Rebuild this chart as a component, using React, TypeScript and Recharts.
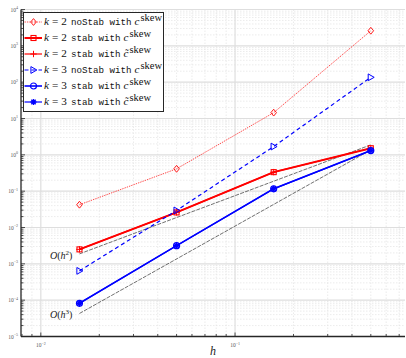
import React from 'react';
import { LineChart, Line, XAxis, YAxis, CartesianGrid, Legend } from 'recharts';

// ---- data ----
const hValues = [0.0158114, 0.05, 0.158114, 0.5];
const k2NoStab = [0.0423, 0.412, 14.5, 2600];
const k2Stab = [2.5e-3, 0.026, 0.334, 1.52];
const k2StabTilde = [2.5e-3, 0.026, 0.334, 1.52];
const k3NoStab = [6.4e-4, 0.0295, 1.69, 136];
const k3Stab = [8.2e-5, 3.16e-3, 0.116, 1.31];
const k3StabTilde = [8.2e-5, 3.16e-3, 0.116, 1.31];
const refHValues = [0.0158114, 0.5];
const refOrder2 = [1.88e-3, 1.88];
const refOrder3 = [4.3e-5, 1.37];
const refLabels = ['2', '3'];

const xDomain: [number, number] = [0.0079057, 0.75];
const yDomain: [number, number] = [1e-5, 1e4];
const xMajorTicks = [0.01, 0.1];
const yMajorTicks = [1e-5, 1e-4, 1e-3, 1e-2, 1e-1, 1, 1e1, 1e2, 1e3, 1e4];

const minorTicks = (dom: [number, number]) => {
  const out: number[] = [];
  const lo = Math.floor(Math.log10(dom[0]));
  const hi = Math.ceil(Math.log10(dom[1]));
  for (let e = lo; e <= hi; e++) {
    for (let m = 2; m <= 9; m++) {
      const v = m * Math.pow(10, e);
      if (v >= dom[0] && v <= dom[1]) out.push(v);
    }
  }
  return out;
};
const xMinorTicks = minorTicks(xDomain);
const yMinorTicks = minorTicks(yDomain);
const xAllTicks = [...xMajorTicks, ...xMinorTicks].sort((a, b) => a - b);
const yAllTicks = [...yMajorTicks, ...yMinorTicks].sort((a, b) => a - b);

const toPoints = (xs: number[], ys: number[]) => xs.map((h, i) => ({ h, v: ys[i] }));

const isMajor = (v: number) => Math.abs(Math.log10(v) - Math.round(Math.log10(v))) < 1e-6;
const expStr = (v: number) => {
  const e = Math.round(Math.log10(v));
  return e < 0 ? '\u2212' + Math.abs(e) : String(e);
};

const AX = '#262626';
const LBL = '#5a5a5a';
const RED = '#ff0000';
const BLUE = '#0000ff';
const SERIF = '"Liberation Serif", "DejaVu Serif", serif';
const MONO = '"Liberation Mono", "DejaVu Sans Mono", monospace';

// ---- ticks (inward, MATLAB-style) ----
const BottomTick = (p: any) => {
  const { x, y, payload } = p;
  const maj = isMajor(payload.value);
  return (
    <g>
      <line x1={x} x2={x} y1={y} y2={y - (maj ? 4 : 2.5)} stroke={AX} strokeWidth={0.8} />
      {maj && (
        <text x={x} y={y + 10.5} textAnchor="middle" fontSize={5.5} fill={LBL} fontFamily={SERIF}>
          10<tspan dy={-2.5} fontSize={4}>{expStr(payload.value)}</tspan>
        </text>
      )}
    </g>
  );
};
const TopTick = (p: any) => {
  const { x, y, payload } = p;
  const maj = isMajor(payload.value);
  return <line x1={x} x2={x} y1={y} y2={y + (maj ? 4 : 2.5)} stroke={AX} strokeWidth={0.8} />;
};
const LeftTick = (p: any) => {
  const { x, y, payload } = p;
  const maj = isMajor(payload.value);
  return (
    <g>
      <line x1={x} x2={x + (maj ? 4 : 2.5)} y1={y} y2={y} stroke={AX} strokeWidth={0.8} />
      {maj && (
        <text x={x - 3} y={y + 2} textAnchor="end" fontSize={5.5} fill={LBL} fontFamily={SERIF}>
          10<tspan dy={-2.5} fontSize={4}>{expStr(payload.value)}</tspan>
        </text>
      )}
    </g>
  );
};
const RightTick = (p: any) => {
  const { x, y, payload } = p;
  const maj = isMajor(payload.value);
  return <line x1={x} x2={x - (maj ? 4 : 2.5)} y1={y} y2={y} stroke={AX} strokeWidth={0.8} />;
};

// ---- markers ----
type MarkerKind = 'diamond' | 'square' | 'plus' | 'triangle' | 'circle' | 'asterisk';
const drawMarker = (kind: MarkerKind, cx: number, cy: number, color: string, key?: any) => {
  switch (kind) {
    case 'diamond':
      return <path key={key} d={`M${cx},${cy - 3.4}L${cx + 2.8},${cy}L${cx},${cy + 3.4}L${cx - 2.8},${cy}Z`} fill="none" stroke={color} strokeWidth={0.9} />;
    case 'square':
      return <rect key={key} x={cx - 2.5} y={cy - 2.5} width={5} height={5} fill="none" stroke={color} strokeWidth={1.1} />;
    case 'plus':
      return <path key={key} d={`M${cx - 3.2},${cy}H${cx + 3.2}M${cx},${cy - 3.2}V${cy + 3.2}`} stroke={color} strokeWidth={1} />;
    case 'triangle':
      return <path key={key} d={`M${cx - 2.6},${cy - 3.4}L${cx + 3.4},${cy}L${cx - 2.6},${cy + 3.4}Z`} fill="none" stroke={color} strokeWidth={1} />;
    case 'circle':
      return <circle key={key} cx={cx} cy={cy} r={3} fill="none" stroke={color} strokeWidth={1.2} />;
    case 'asterisk':
      return (
        <path
          key={key}
          d={`M${cx - 3},${cy}H${cx + 3}M${cx},${cy - 3}V${cy + 3}M${cx - 2.2},${cy - 2.2}L${cx + 2.2},${cy + 2.2}M${cx - 2.2},${cy + 2.2}L${cx + 2.2},${cy - 2.2}`}
          stroke={color}
          strokeWidth={1.4}
        />
      );
  }
  return null;
};

type Series = {
  id: string;
  values: number[];
  color: string;
  width: number;
  dash?: string;
  marker: MarkerKind;
  k: number;
  stab: boolean;
  tilde: boolean;
};

const series: Series[] = [
  { id: 's1', values: k2NoStab, color: RED, width: 0.7, dash: '1.4 1', marker: 'diamond', k: 2, stab: false, tilde: false },
  { id: 's2', values: k2Stab, color: RED, width: 2, marker: 'square', k: 2, stab: true, tilde: false },
  { id: 's3', values: k2StabTilde, color: RED, width: 1.2, marker: 'plus', k: 2, stab: true, tilde: true },
  { id: 's4', values: k3NoStab, color: BLUE, width: 1.2, dash: '4 3', marker: 'triangle', k: 3, stab: false, tilde: false },
  { id: 's5', values: k3Stab, color: BLUE, width: 1.6, marker: 'circle', k: 3, stab: true, tilde: false },
  { id: 's6', values: k3StabTilde, color: BLUE, width: 1.2, marker: 'asterisk', k: 3, stab: true, tilde: true },
];

const LegendBox = () => (
  <div
    style={{
      border: `1.4px solid ${AX}`,
      background: '#fff',
      padding: '1px 1px 1px 0px',
      fontFamily: SERIF,
      fontSize: 11.2,
      color: '#111',
      lineHeight: '16px',
      whiteSpace: 'nowrap',
    }}
  >
    {series.map((s) => (
      <div key={s.id} style={{ display: 'flex', alignItems: 'center', height: 16 }}>
        <svg width={19} height={16} style={{ display: 'block' }}>
          <line x1={0.5} x2={18} y1={8} y2={8} stroke={s.color} strokeWidth={s.width} strokeDasharray={s.dash} />
          {drawMarker(s.marker, 9.5, 8, s.color)}
        </svg>
        <span style={{ marginLeft: 1 }}>
          <i>k</i>
          <span style={{ margin: '0 3px' }}>=</span>
          {s.k}
          <span style={{ fontFamily: MONO, fontSize: 9.2, marginLeft: 4, marginRight: 3 }}>{s.stab ? 'stab' : 'noStab'} with</span>
          <i>{s.tilde ? 'c\u0303' : 'c'}</i>
          <span style={{ fontSize: 10.5, position: 'relative', top: -4, marginLeft: 1 }}>skew</span>
        </span>
      </div>
    ))}
  </div>
);

const RefLabel = (order: string) => (p: any) => {
  if (p.index !== 0) return null;
  return (
    <text x={p.x - 7} y={p.y + 5} textAnchor="end" fontSize={10} fontFamily={SERIF} fill="#222">
      <tspan fontStyle="italic">O</tspan>(<tspan fontStyle="italic">h</tspan>
      <tspan dy={-4} fontSize={7}>{order}</tspan>
      <tspan dy={4}>)</tspan>
    </text>
  );
};

export default function App() {
  return (
    <div style={{ position: 'absolute', left: 0, top: 0, width: 406, height: 358, background: '#fff' }}>
      <LineChart width={406} height={358} margin={{ top: 9.5, right: 1, left: 0, bottom: 0 }}>
        <CartesianGrid horizontalValues={yMinorTicks} verticalValues={xMinorTicks} stroke="#e2e2e2" strokeDasharray="1.5 1.5" strokeWidth={0.7} />
        <CartesianGrid horizontalValues={yMajorTicks} verticalValues={xMajorTicks} stroke="#dedede" strokeWidth={1.2} />
        <XAxis
          dataKey="h"
          type="number"
          scale="log"
          domain={xDomain}
          allowDataOverflow
          ticks={xAllTicks}
          interval={0}
          tick={<BottomTick />}
          tickLine={false}
          tickSize={0}
          tickMargin={0}
          height={21.5}
          axisLine={{ stroke: AX, strokeWidth: 1.3 }}
          label={{ value: 'h', position: 'insideBottom', offset: 3, style: { fontStyle: 'italic', fontFamily: SERIF, fontSize: 12, fill: '#222' } }}
        />
        <XAxis
          xAxisId="top"
          orientation="top"
          dataKey="h"
          type="number"
          scale="log"
          domain={xDomain}
          allowDataOverflow
          ticks={xAllTicks}
          interval={0}
          tick={<TopTick />}
          tickLine={false}
          tickSize={0}
          tickMargin={0}
          height={0}
          axisLine={{ stroke: AX, strokeWidth: 1 }}
        />
        <YAxis
          type="number"
          scale="log"
          domain={yDomain}
          allowDataOverflow
          ticks={yAllTicks}
          interval={0}
          tick={<LeftTick />}
          tickLine={false}
          tickSize={0}
          tickMargin={0}
          width={21}
          axisLine={{ stroke: AX, strokeWidth: 1.3 }}
        />
        <YAxis
          yAxisId="right"
          orientation="right"
          type="number"
          scale="log"
          domain={yDomain}
          allowDataOverflow
          ticks={yAllTicks}
          interval={0}
          tick={<RightTick />}
          tickLine={false}
          tickSize={0}
          tickMargin={0}
          width={0}
          axisLine={{ stroke: AX, strokeWidth: 1 }}
        />
        <Line
          data={toPoints(refHValues, refOrder2)}
          dataKey="v"
          stroke="#333"
          strokeWidth={0.7}
          strokeDasharray="4 1.2"
          dot={false}
          isAnimationActive={false}
          label={RefLabel(refLabels[0])}
        />
        <Line
          data={toPoints(refHValues, refOrder3)}
          dataKey="v"
          stroke="#333"
          strokeWidth={0.7}
          strokeDasharray="4 1.2"
          dot={false}
          isAnimationActive={false}
          label={RefLabel(refLabels[1])}
        />
        {series.map((s) => (
          <Line
            key={s.id}
            data={toPoints(hValues, s.values)}
            dataKey="v"
            stroke={s.color}
            strokeWidth={s.width}
            strokeDasharray={s.dash}
            isAnimationActive={false}
            dot={(p: any) => drawMarker(s.marker, p.cx, p.cy, s.color, `${s.id}-${p.index}`)}
            activeDot={false}
          />
        ))}
        <Legend
          layout="vertical"
          align="center"
          verticalAlign="middle"
          content={() => <LegendBox />}
          wrapperStyle={{ left: 23, top: 12, width: 'auto' }}
        />
      </LineChart>
    </div>
  );
}
